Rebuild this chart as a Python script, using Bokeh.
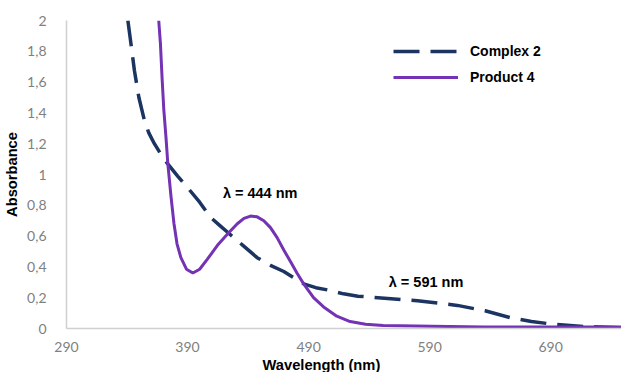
from bokeh.plotting import figure
from bokeh.models import FixedTicker, CustomJSTickFormatter, Legend, LegendItem, ColumnDataSource, Title
from bokeh.core.properties import value
from bokeh.embed import file_html
from bokeh.resources import INLINE

# ---- data ----
complex2_wl = [340.7, 343.4, 346.1, 349.8, 354.4, 358.0, 362.6, 368.1, 373.5, 381.8, 390.0, 400.0, 409.2, 416.5,
               423.8, 435.7, 447.5, 458.5, 469.5, 477.7, 485.9, 496.0, 506.0, 518.8, 530.7, 555.4, 580.0, 596.5,
               612.9, 635.8, 656.8, 674.1, 689.7, 717.1, 748.5]
complex2_abs = [2.0, 1.84, 1.675, 1.5, 1.35, 1.27, 1.20, 1.13, 1.07, 0.99, 0.915, 0.82, 0.72, 0.67,
                0.62, 0.54, 0.46, 0.41, 0.37, 0.33, 0.29, 0.265, 0.25, 0.225, 0.21, 0.195, 0.18, 0.165,
                0.15, 0.115, 0.07, 0.045, 0.03, 0.013, 0.005]

product4_wl = [366.2, 367.6, 369.0, 370.4, 372.2, 373.7, 376.3, 378.8, 381.3, 384.5, 389.1, 394.4, 400.0, 406.4,
               414.7, 423.8, 431.1, 436.6, 442.1, 447.5, 453.0, 458.5, 464.0, 469.5, 475.0, 480.4, 485.9, 494.1,
               502.4, 513.3, 524.3, 537.1, 551.7, 591.9, 634.8, 683.3, 748.5]
product4_abs = [2.0, 1.85, 1.62, 1.42, 1.24, 1.07, 0.86, 0.68, 0.55, 0.46, 0.385, 0.36, 0.385, 0.45,
                0.54, 0.62, 0.68, 0.715, 0.73, 0.725, 0.70, 0.655, 0.59, 0.51, 0.435, 0.36, 0.29, 0.20,
                0.14, 0.08, 0.045, 0.028, 0.02, 0.015, 0.01, 0.01, 0.01]

x_ticks = [290, 390, 490, 590, 690]
y_ticks = [0, 0.2, 0.4, 0.6, 0.8, 1.0, 1.2, 1.4, 1.6, 1.8, 2.0]
y_tick_labels = ["0", "0,2", "0,4", "0,6", "0,8", "1", "1,2", "1,4", "1,6", "1,8", "2"]

annot_text = ["λ = 444 nm", "λ = 591 nm"]
annot_x = [419.2, 556.2]
annot_y = [0.877, 0.30]

series_names = ["Complex 2", "Product 4"]
x_title = "Wavelength (nm)"
y_title = "Absorbance"

# ---- figure ----
p = figure(width=621, height=372, output_backend="svg", toolbar_location=None,
           x_range=(290, 748.5), y_range=(0, 2),
           min_border_left=66, min_border_right=0, min_border_top=20, min_border_bottom=0)
p.outline_line_color = None
p.xgrid.visible = False
p.ygrid.visible = False
p.background_fill_color = "white"
p.border_fill_color = "white"

for ax in (p.xaxis[0], p.yaxis[0]):
    ax.axis_line_color = "#D0D0D0"
    ax.axis_line_width = 1.5
    ax.major_tick_line_color = None
    ax.minor_tick_line_color = None
    ax.major_label_text_color = "#7F7F7F"
    ax.major_label_text_font = "Lato"
    ax.major_label_text_font_size = "14px"
    ax.axis_label_text_font = "Liberation Sans"
    ax.axis_label_text_font_style = "bold"
    ax.axis_label_text_font_size = "14.7px"
    ax.axis_label_text_color = "black"

p.xaxis.ticker = FixedTicker(ticks=x_ticks)
p.yaxis.ticker = FixedTicker(ticks=y_ticks)
p.yaxis.formatter = CustomJSTickFormatter(args=dict(labels=y_tick_labels), code="return labels[index];")
p.yaxis.axis_label = y_title
p.xaxis.major_label_standoff = 7
p.yaxis.major_label_standoff = 14
p.yaxis.axis_label_standoff = 4

xt = Title(text=x_title, align="left", offset=196, text_font="Liberation Sans",
           text_font_style="bold", text_font_size="14.7px", text_color="black", standoff=0)
p.add_layout(xt, "below")

r1 = p.line(complex2_wl, complex2_abs, line_color="#1B3461", line_width=3.5, line_dash="26 11")
r2 = p.line(product4_wl, product4_abs, line_color="#7432B4", line_width=3)

src = ColumnDataSource(dict(x=annot_x, y=annot_y, t=annot_text))
p.text(x="x", y="y", text="t", source=src, text_font=value("Liberation Sans"), text_font_style="bold",
       text_font_size="14.5px", text_color="black", text_align="left", text_baseline="middle")

legend = Legend(items=[LegendItem(label=series_names[0], renderers=[r1]),
                       LegendItem(label=series_names[1], renderers=[r2])],
                location=(327, 241), orientation="vertical")
legend.background_fill_alpha = 0
legend.border_line_color = None
legend.padding = 0
legend.margin = 0
legend.spacing = 6
legend.glyph_width = 65
legend.glyph_height = 20
legend.label_height = 20
legend.label_standoff = 12
legend.label_text_font = "Liberation Sans"
legend.label_text_font_style = "bold"
legend.label_text_font_size = "14px"
legend.label_text_color = "black"
p.add_layout(legend, "center")

open("out.html", "w").write(file_html(p, INLINE))
